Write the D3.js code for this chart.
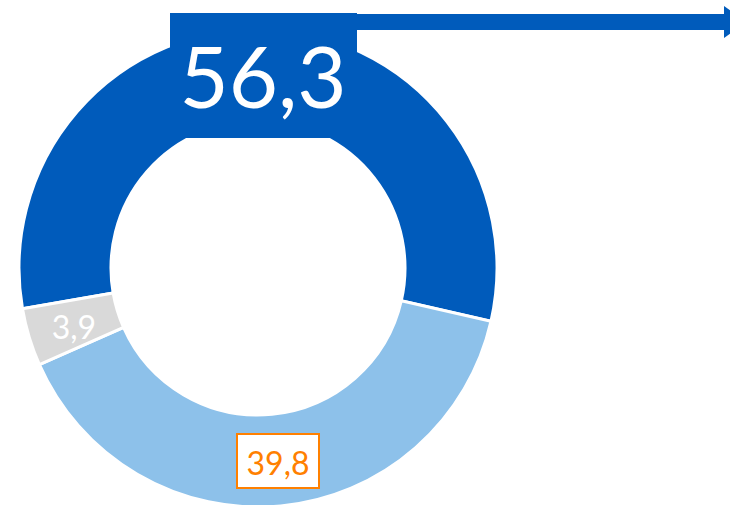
<!DOCTYPE html>
<html><head><meta charset="utf-8">
<script src="https://cdn.jsdelivr.net/npm/d3@7"></script>
<style>html,body{margin:0;padding:0;background:#fff;overflow:hidden}</style>
</head><body>
<svg id="chart" width="730" height="505"></svg>
<script>
const categories = ["A", "B", "C"];
const values = [56.3, 39.8, 3.9];
const labels = ["56,3", "39,8", "3,9"];
const colors = ["#005BBB", "#8DC1EA", "#D9D9D9"];

const svg = d3.select("#chart");
const cx = 258, cy = 268, R = 239, r = 147;
const startDeg = -99.8;
const pie = d3.pie().sort(null).value(d => d)
  .startAngle(startDeg * Math.PI / 180)
  .endAngle((startDeg + 360) * Math.PI / 180);
const arcs = pie(values);
const arc = d3.arc().innerRadius(r).outerRadius(R);
const g = svg.append("g").attr("transform", `translate(${cx},${cy})`);
g.selectAll("path").data(arcs).join("path")
  .attr("d", arc).attr("fill", (d, i) => colors[i])
  .attr("stroke", "#fff").attr("stroke-width", 3).attr("stroke-linejoin", "miter");

// Label for first slice: blue box with arrow
svg.append("line").attr("x1", 350).attr("x2", 726).attr("y1", 22).attr("y2", 22)
  .attr("stroke", colors[0]).attr("stroke-width", 16);
svg.append("path").attr("d", "M724,6 L724,38 L746,22 Z").attr("fill", colors[0]);
svg.append("rect").attr("x", 170).attr("y", 13).attr("width", 187).attr("height", 125).attr("fill", colors[0]);
svg.append("text").attr("x", 263).attr("y", 108).attr("text-anchor", "middle")
  .attr("font-family", "Lato, 'Open Sans', sans-serif").attr("font-size", 85)
  .attr("fill", "#fff").text(labels[0]);

// Label for second slice: orange boxed
svg.append("rect").attr("x", 237).attr("y", 434).attr("width", 82).attr("height", 54)
  .attr("fill", "#fff").attr("stroke", "#FF8000").attr("stroke-width", 2);
svg.append("text").attr("x", 278).attr("y", 475).attr("text-anchor", "middle")
  .attr("font-family", "Lato, 'Open Sans', sans-serif").attr("font-size", 32)
  .attr("fill", "#FF8000").text(labels[1]);

// Label for third slice
svg.append("text").attr("x", 74).attr("y", 339).attr("text-anchor", "middle")
  .attr("font-family", "Lato, 'Open Sans', sans-serif").attr("font-size", 32)
  .attr("fill", "#fff").text(labels[2]);
</script>
</body></html>
